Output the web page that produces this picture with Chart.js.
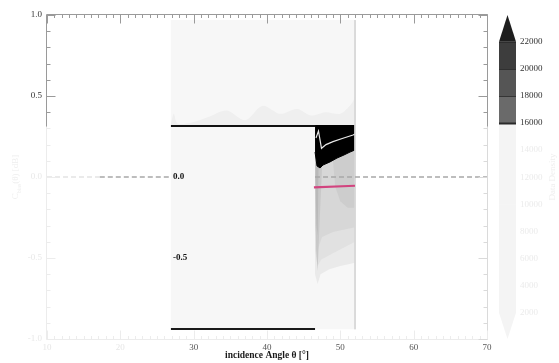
<!DOCTYPE html>
<html><head><meta charset="utf-8">
<script src="https://cdn.jsdelivr.net/npm/chart.js@4.4.1/dist/chart.umd.min.js"></script>
<style>html,body{margin:0;padding:0;background:#fff;}</style>
</head><body>
<canvas id="c" width="559" height="363"></canvas>
<script>
const FONT = "'Liberation Serif', 'DejaVu Serif', serif";

// ---- axes ----
const xRange = [10, 70];
const yRange = [-1, 1];
const xTickStep = 10;
const yTickStep = 0.5;
const xFadedTicks = [10, 20];
const fadeCut = 0.31;           // everything below this value is washed out

// ---- grey block (data coverage) ----
const blockX = [26.85, 52.0];
const blockTopY = [0.969, 0.969];
const blockBottom = -0.94;
const blockEdgeX = [52.0, 52.0];
const blockEdgeY = [0.969, -0.94];

// ---- faint ridge above the upper line ----
const ridgeX = [26.9, 27.3, 27.8, 30.0, 32.0, 34.5, 37.0, 39.4, 41.8, 44.1, 46.0, 48.0, 50.0, 51.5, 52.0];
const ridgeY = [0.33, 0.39, 0.33, 0.34, 0.37, 0.41, 0.35, 0.44, 0.39, 0.42, 0.38, 0.40, 0.39, 0.45, 0.49];
const ridgeBase = 0.315;

// ---- black lines ----
const upperLineX = [26.9, 46.55];
const upperLineY = [0.315, 0.315];
const lowerLineX = [26.9, 46.55];
const lowerLineY = [-0.938, -0.938];

// ---- black density region ----
const blackTop = 0.321;
const blackX = [46.55, 46.82, 47.23, 47.64, 48.59, 49.55, 50.50, 51.32, 52.0];
const blackBottomY = [0.154, 0.068, 0.056, 0.074, 0.093, 0.117, 0.136, 0.154, 0.167];

// ---- white median line ----
const whiteX = [46.68, 47.02, 47.43, 48.05, 49.0, 50.36, 51.73, 52.0];
const whiteY = [0.241, 0.284, 0.177, 0.200, 0.218, 0.239, 0.259, 0.265];

// ---- grey density bands (lower boundaries) ----
const bandAX = [46.55, 46.9, 47.3, 48.5, 50.0, 52.0];
const bandAY = [-0.60, -0.66, -0.60, -0.57, -0.55, -0.53];
const bandBX = [46.55, 46.9, 47.4, 49.0, 52.0];
const bandBY = [-0.45, -0.55, -0.51, -0.47, -0.40];
const bandCX = [46.55, 46.9, 47.5, 49.0, 52.0];
const bandCY = [-0.30, -0.45, -0.37, -0.34, -0.31];
const bandDX = [49.0, 49.3, 50.0, 51.0, 52.0];
const bandDY = [0.10, -0.06, -0.15, -0.19, -0.19];
const streakEX = [46.55, 46.7, 46.9, 47.2, 47.5];
const streakEY = [0.0, -0.45, -0.58, -0.25, 0.05];
const streakFX = [46.6, 46.75, 46.9, 47.05];
const streakFY = [0.0, -0.30, -0.36, 0.05];
const bandTop = 0.30;

// ---- pink fit line ----
const pinkX = [46.4, 52.0];
const pinkY = [-0.064, -0.054];

// ---- zero reference line (hidden behind the block) ----
const zeroX = [10, 17.2, 26.9, 36, 46.55, 70];
const zeroY = [0, 0, 0, null, 0, 0];

// ---- inner labels ----
const innerLabelX = 26.9;
const innerLabels = ['0.0', '-0.5'];
const innerLabelY = [0, -0.5];

// ---- colour bar ----
const cbRange = [60, 23970];
const cbLevels = [2000, 4000, 6000, 8000, 10000, 12000, 14000, 16000, 18000, 20000, 22000];
const cbColors = ['#f4f4f4', '#f4f4f4', '#f4f4f4', '#f4f4f4', '#f4f4f4', '#f4f4f4', '#f4f4f4', '#6a6a6a', '#555555', '#3d3d3d'];
const cbUnder = '#f4f4f4';
const cbOver = '#1e1e1e';
const cbFadeBelow = 16000;

const pts = (xs, ys) => xs.map((x, i) => ({x, y: ys[i]}));

function lineDs(xs, ys, o) {
  return Object.assign({
    type: 'line', data: pts(xs, ys), pointRadius: 0, tension: 0,
    borderWidth: 0, fill: false, spanGaps: false
  }, o);
}

const datasets = [
  lineDs(blockX, blockTopY, {order: 90, backgroundColor: '#f7f7f7', fill: {value: blockBottom}, borderWidth: 0}),
  lineDs(ridgeX, ridgeY, {order: 80, backgroundColor: '#efefef', fill: {value: ridgeBase}, tension: 0.3}),
  lineDs(bandAX, bandAY, {order: 70, backgroundColor: '#eaeaea', fill: {value: bandTop}}),
  lineDs(bandBX, bandBY, {order: 65, backgroundColor: '#e1e1e1', fill: {value: bandTop}}),
  lineDs(bandCX, bandCY, {order: 60, backgroundColor: '#d7d7d7', fill: {value: bandTop}}),
  lineDs(bandDX, bandDY, {order: 55, backgroundColor: '#cdcdcd', fill: {value: bandTop}}),
  lineDs(streakEX, streakEY, {order: 52, backgroundColor: '#c8c8c8', fill: {value: bandTop}}),
  lineDs(streakFX, streakFY, {order: 51, backgroundColor: '#b9b9b9', fill: {value: bandTop}}),
  lineDs(blackX, blackBottomY, {order: 40, backgroundColor: '#000000', borderColor: '#000000', borderWidth: 1, fill: {value: blackTop}}),
  lineDs(whiteX, whiteY, {order: 35, borderColor: '#e8e8e8', borderWidth: 1.2}),
  lineDs(upperLineX, upperLineY, {order: 30, borderColor: '#111111', borderWidth: 2}),
  lineDs(lowerLineX, lowerLineY, {order: 30, borderColor: '#1a1a1a', borderWidth: 2}),
  lineDs(blockEdgeX, blockEdgeY, {order: 25, borderColor: '#d6d6d6', borderWidth: 1}),
  lineDs(zeroX, zeroY, {order: 20, borderColor: '#a8a8a8', borderWidth: 1.3, borderDash: [5, 3],
    segment: {borderColor: c => c.p0.parsed.x < 17 ? '#e4e4e4' : '#a8a8a8'}}),
  lineDs(pinkX, pinkY, {order: 10, borderColor: '#d2447f', borderWidth: 2.2})
];

function hline(ctx, x0, x1, y, col) { ctx.strokeStyle = col; ctx.beginPath(); ctx.moveTo(x0, y); ctx.lineTo(x1, y); ctx.stroke(); }
function vline(ctx, x, y0, y1, col) { ctx.strokeStyle = col; ctx.beginPath(); ctx.moveTo(x, y0); ctx.lineTo(x, y1); ctx.stroke(); }

const decorations = {
  id: 'decorations',
  afterDraw(chart) {
    const {ctx, chartArea: a, scales: {x, y, cb}} = chart;
    const cut = y.getPixelForValue(fadeCut);
    const dark = '#9a9a9a', faint = '#ececec', faintR = '#dadada';
    ctx.save();
    ctx.lineWidth = 1;
    const L = Math.round(a.left) - 0.5, R = Math.round(a.right) + 0.5;
    const T = Math.round(a.top) - 0.5, B = Math.round(a.bottom) + 0.5;
    // spines
    hline(ctx, L, R, T, dark);
    hline(ctx, L, R, B, faint);
    vline(ctx, L, T, cut, dark); vline(ctx, L, cut, B, faint);
    vline(ctx, R, T, cut, dark); vline(ctx, R, cut, B, faintR);
    // x ticks (minor 1, major 10)
    for (let v = xRange[0]; v <= xRange[1]; v += 1) {
      const px = Math.round(x.getPixelForValue(v)) + 0.5;
      const len = v % 10 === 0 ? 9 : 3.5;
      vline(ctx, px, T, T + len, dark);
      vline(ctx, px, B, B - len, faint);
    }
    // y ticks (minor 0.1, major 0.5)
    for (let k = -10; k <= 10; k++) {
      const v = k / 10;
      const py = Math.round(y.getPixelForValue(v)) + 0.5;
      const len = k % 5 === 0 ? 9 : 4;
      const above = py < cut;
      hline(ctx, L, L + len, py, above ? dark : faint);
      hline(ctx, R, R - len, py, above ? dark : faintR);
    }
    // inner bold labels
    ctx.font = 'bold 9px ' + FONT;
    ctx.fillStyle = '#111';
    ctx.textAlign = 'left'; ctx.textBaseline = 'middle';
    innerLabels.forEach((t, i) => ctx.fillText(t, x.getPixelForValue(innerLabelX) + 2, y.getPixelForValue(innerLabelY[i])));
    // y-axis title (washed out)
    ctx.save();
    ctx.translate(16, (a.top + a.bottom) / 2);
    ctx.rotate(-Math.PI / 2);
    ctx.fillStyle = '#eeeeee';
    ctx.textBaseline = 'middle';
    const p1 = 'C', p3 = '(θ) [dB]';
    ctx.font = '6px ' + FONT; const wSub = ctx.measureText('bias').width;
    ctx.font = '9px ' + FONT;
    const w1 = ctx.measureText(p1).width, w3 = ctx.measureText(p3).width;
    let sx = -(w1 + wSub + w3) / 2;
    ctx.textAlign = 'left';
    ctx.fillText(p1, sx, 0); sx += w1;
    ctx.font = '6px ' + FONT; ctx.fillText('bias', sx, 3); sx += wSub;
    ctx.font = '9px ' + FONT; ctx.fillText(p3, sx, 0);
    ctx.restore();
    // colour bar
    const bx = Math.round(a.right) + 12, bw = 17;
    for (let i = 0; i < cbLevels.length - 1; i++) {
      const y0 = cb.getPixelForValue(cbLevels[i]), y1 = cb.getPixelForValue(cbLevels[i + 1]);
      ctx.fillStyle = cbColors[i];
      ctx.fillRect(bx, y1, bw, y0 - y1 + 0.5);
    }
    const yTopBase = cb.getPixelForValue(cbLevels[cbLevels.length - 1]);
    const yBotBase = cb.getPixelForValue(cbLevels[0]);
    ctx.fillStyle = cbOver;
    ctx.beginPath(); ctx.moveTo(bx, yTopBase); ctx.lineTo(bx + bw / 2, cb.getPixelForValue(cb.max)); ctx.lineTo(bx + bw, yTopBase); ctx.closePath(); ctx.fill();
    ctx.fillStyle = cbUnder;
    ctx.beginPath(); ctx.moveTo(bx, yBotBase); ctx.lineTo(bx + bw / 2, cb.getPixelForValue(cb.min)); ctx.lineTo(bx + bw, yBotBase); ctx.closePath(); ctx.fill();
    cbLevels.filter(v => v >= cbFadeBelow).forEach(v => {
      const py = Math.round(cb.getPixelForValue(v)) + 0.5;
      ctx.lineWidth = v === cbFadeBelow ? 2 : 0.8;
      hline(ctx, bx, bx + bw, py, '#2a2a2a');
    });
    // colour-bar title (washed out)
    ctx.save();
    ctx.translate(553, (a.top + a.bottom) / 2);
    ctx.rotate(-Math.PI / 2);
    ctx.font = '9px ' + FONT; ctx.fillStyle = '#eeeeee';
    ctx.textAlign = 'center'; ctx.textBaseline = 'middle';
    ctx.fillText('Data Density', 0, 0);
    ctx.restore();
    ctx.restore();
  }
};

new Chart(document.getElementById('c'), {
  type: 'scatter',
  data: {datasets},
  options: {
    responsive: false, animation: false, devicePixelRatio: 1,
    layout: {padding: {top: 15, left: 0, right: 0, bottom: 0}},
    plugins: {legend: {display: false}, tooltip: {enabled: false}},
    scales: {
      x: {
        type: 'linear', position: 'bottom', min: xRange[0], max: xRange[1],
        grid: {display: false, drawTicks: false}, border: {display: false},
        ticks: {stepSize: xTickStep, padding: 3, font: {family: FONT, size: 9},
          color: c => xFadedTicks.includes(c.tick.value) ? '#e6e6e6' : '#555555'},
        title: {display: true, text: 'incidence Angle θ [°]', color: '#1a1a1a',
          font: {family: FONT, size: 9.5, weight: 'bold'}, padding: {top: 0, bottom: 2}},
        afterFit: s => { s.height = 24; }
      },
      y: {
        type: 'linear', position: 'left', min: yRange[0], max: yRange[1],
        grid: {display: false, drawTicks: false}, border: {display: false},
        ticks: {stepSize: yTickStep, padding: 5, font: {family: FONT, size: 9},
          callback: v => Number(v).toFixed(1),
          color: c => c.tick.value > fadeCut ? '#333333' : '#e8e8e8'},
        afterFit: s => { s.width = 47; }
      },
      cb: {
        type: 'linear', position: 'right', min: cbRange[0], max: cbRange[1],
        grid: {display: true, drawOnChartArea: false, drawTicks: true, tickLength: 30,
          color: 'rgba(0,0,0,0)', tickColor: 'rgba(0,0,0,0)'},
        border: {display: false},
        afterBuildTicks: s => { s.ticks = cbLevels.map(v => ({value: v})); },
        ticks: {padding: 3, font: {family: FONT, size: 9}, callback: v => String(v),
          color: c => c.tick.value >= cbFadeBelow ? '#333333' : '#ebebeb'},
        afterFit: s => { s.width = 72; }
      }
    }
  },
  plugins: [decorations]
});
</script>
</body></html>
